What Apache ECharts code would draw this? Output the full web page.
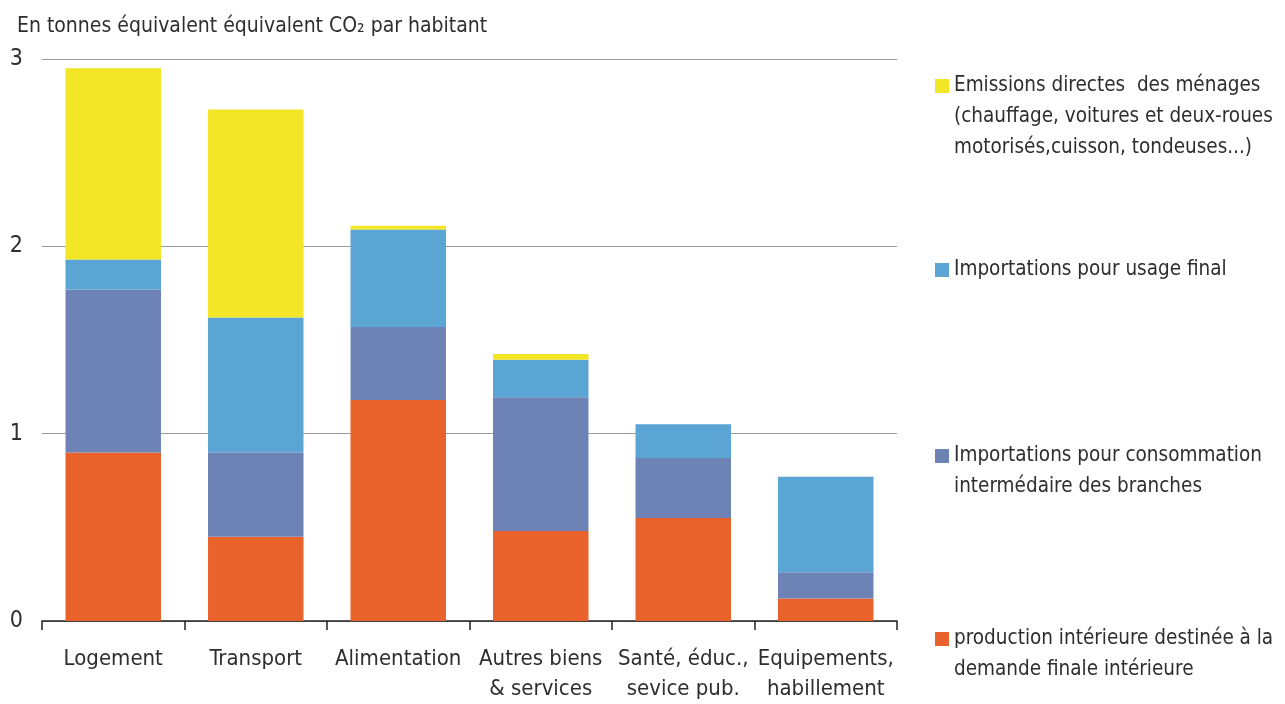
<!DOCTYPE html>
<html>
<head>
<meta charset="utf-8">
<script src="https://cdn.jsdelivr.net/npm/echarts@6/dist/echarts.min.js"></script>
<style>
html,body{margin:0;padding:0;background:#fff;}
#chart{width:1285px;height:704px;}
</style>
</head>
<body>
<div id="chart"></div>
<script>
const categories = ['Logement', 'Transport', 'Alimentation', 'Autres biens\n& services', 'Santé, éduc.,\nsevice pub.', 'Equipements,\nhabillement'];
const yTicks = [0, 1, 2, 3];
const seriesNames = [
  'production intérieure destinée à la\ndemande finale intérieure',
  'Importations pour consommation\nintermédaire des branches',
  'Importations pour usage final',
  'Emissions directes  des ménages\n(chauffage, voitures et deux-roues\nmotorisés,cuisson, tondeuses...)'
];
const productionInterieure = [0.90, 0.45, 1.18, 0.48, 0.55, 0.12];
const importationsCI = [0.87, 0.45, 0.39, 0.715, 0.32, 0.14];
const importationsUsageFinal = [0.16, 0.72, 0.52, 0.20, 0.18, 0.51];
const emissionsDirectes = [1.02, 1.11, 0.02, 0.03, 0, 0];

const colors = ['#E9622B', '#6D83B6', '#5AA5D3', '#F2E627'];
const FONT = "'Liberation Sans Narrow', 'Arial Narrow', 'DejaVu Sans Condensed', sans-serif";
const TXT = '#2e2e2e';
const LH = 31;
const ICON = 14;

const chart = echarts.init(document.getElementById('chart'), null, {renderer: 'canvas'});

// Each legend entry: square icon aligned with the first text line.
function legendFor(idx, iconCenterY) {
  const name = seriesNames[idx];
  const n = name.split('\n').length;
  const h = ICON + (n - 1) * LH;
  const iconPath = 'path://M0,0L' + ICON + ',0L' + ICON + ',' + ICON + 'L0,' + ICON + 'ZM0,' + h + 'L' + ICON + ',' + h + 'Z';
  const iconTop = iconCenterY - ICON / 2;
  const top = iconTop + ICON / 2 - LH / 2;
  return {
    data: [{name: name, icon: iconPath}],
    left: 935,
    top: top,
    padding: 0,
    orient: 'vertical',
    itemWidth: ICON,
    itemHeight: h,
    itemGap: 0,
    itemStyle: {borderWidth: 0},
    textStyle: {
      fontFamily: FONT,
      fontSize: 20.5,
      color: TXT,
      lineHeight: LH
    }
  };
}

const data = [productionInterieure, importationsCI, importationsUsageFinal, emissionsDirectes];

chart.setOption({
  backgroundColor: '#ffffff',
  animation: false,
  title: {
    text: 'En tonnes équivalent équivalent CO₂ par habitant',
    left: 17,
    top: 16,
    padding: 0,
    textStyle: {fontFamily: FONT, fontSize: 21, fontWeight: 'normal', color: TXT}
  },
  legend: [
    legendFor(3, 86),
    legendFor(2, 270),
    legendFor(1, 456),
    legendFor(0, 639)
  ],
  grid: {left: 42, right: 388, top: 59, bottom: 81, containLabel: false},
  xAxis: {
    type: 'category',
    data: categories,
    boundaryGap: true,
    axisLine: {show: true, lineStyle: {color: '#222', width: 1.5}},
    axisTick: {show: true, length: 9, inside: false, alignWithLabel: false, lineStyle: {color: '#222', width: 1.5}},
    axisLabel: {
      margin: 23,
      interval: 0,
      fontFamily: FONT,
      fontSize: 22,
      color: TXT,
      lineHeight: 30
    },
    splitLine: {show: false}
  },
  yAxis: {
    type: 'value',
    min: 0,
    max: 3,
    interval: 1,
    axisLine: {show: false},
    axisTick: {show: false},
    axisLabel: {
      margin: 19,
      fontFamily: FONT,
      fontSize: 23,
      color: TXT,
      formatter: function (v) { return yTicks.indexOf(v) >= 0 ? String(v) : ''; }
    },
    splitLine: {show: true, lineStyle: {color: '#9a9a9a', width: 1.2}}
  },
  series: data.map((d, i) => ({
    name: seriesNames[i],
    type: 'bar',
    stack: 'total',
    data: d,
    barWidth: '67%',
    itemStyle: {color: colors[i]},
    emphasis: {disabled: true}
  }))
});
</script>
</body>
</html>
